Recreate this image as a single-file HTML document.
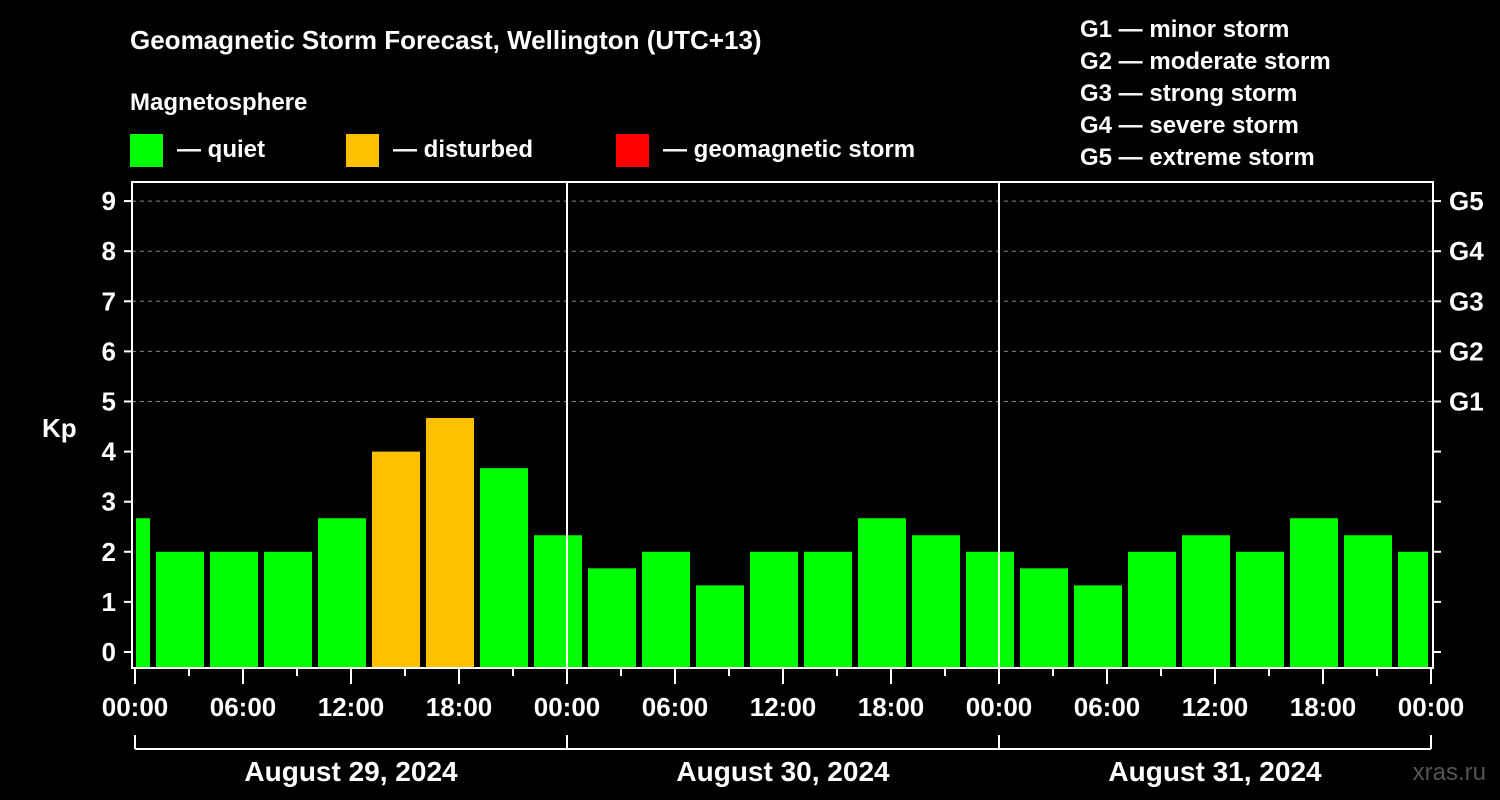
<!DOCTYPE html>
<html><head><meta charset="utf-8"><style>
body{margin:0;background:#000;}
svg{display:block;font-family:"Liberation Sans",sans-serif;font-weight:bold;}
</style></head><body>
<svg id="chart" width="1500" height="800" viewBox="0 0 1500 800">
<rect width="1500" height="800" fill="#000"/>
<text x="130" y="49" fill="#fff" font-size="26">Geomagnetic Storm Forecast, Wellington (UTC+13)</text>
<text x="130" y="110" fill="#fff" font-size="24">Magnetosphere</text>
<g><rect x="130" y="134" width="33" height="33" fill="#00ff00"/><text x="177" y="157" fill="#fff" font-size="24">— quiet</text></g>
<g><rect x="346" y="134" width="33" height="33" fill="#ffc000"/><text x="393" y="157" fill="#fff" font-size="24">— disturbed</text></g>
<g><rect x="616" y="134" width="33" height="33" fill="#ff0000"/><text x="663" y="157" fill="#fff" font-size="24">— geomagnetic storm</text></g>
<g fill="#fff" font-size="24">
<text x="1080" y="37">G1 — minor storm</text>
<text x="1080" y="69">G2 — moderate storm</text>
<text x="1080" y="101">G3 — strong storm</text>
<text x="1080" y="133">G4 — severe storm</text>
<text x="1080" y="165">G5 — extreme storm</text>
</g>
<text x="42" y="437" fill="#fff" font-size="26">Kp</text>
<text x="1486" y="780" fill="#555" font-size="24" text-anchor="end" font-weight="normal">xras.ru</text>
<g id="plot"></g>
</svg>
<script>
const kpValues=[2.67,2,2,2,2.67,4,4.67,3.67,2.33,1.67,2,1.33,2,2,2.67,2.33,2,1.67,1.33,2,2.33,2,2.67,2.33,2];
const yTickLabels=["0","1","2","3","4","5","6","7","8","9"];
const gLabels=["G1","G2","G3","G4","G5"];
const hourLabels=["00:00","06:00","12:00","18:00"];
const dayLabels=["August 29, 2024","August 30, 2024","August 31, 2024"];
const NS="http://www.w3.org/2000/svg";
const g=document.getElementById('plot');
const L=132,R=1433,T=182,B=668;
const x0=135,pxH=18;
const xs=h=>x0+h*pxH;
const ys=v=>652-v*50.1;
function mk(tag,a){const e=document.createElementNS(NS,tag);for(const k in a)e.setAttribute(k,a[k]);g.appendChild(e);return e;}
// grid
for(let v=5;v<=9;v++){const l=mk('line',{x1:L,x2:R,y1:ys(v),y2:ys(v),stroke:'#888','stroke-dasharray':'4,4','stroke-width':1});

}
// bars
kpValues.forEach((v,i)=>{
 const c=-0.5+3*i;
 let a=xs(c)-24,b=xs(c)+24;
 a=Math.max(a,136);b=Math.min(b,1428);
 const col=v>=5?'#ff0000':(v>=4?'#ffc000':'#00ff00');
 const r=mk('rect',{x:a,y:ys(v),width:b-a,height:B-ys(v),fill:col});
 
 
});
// day separators
[1,2].forEach(d=>{const l=mk('line',{x1:xs(24*d),x2:xs(24*d),y1:T,y2:B,stroke:'#fff','stroke-width':2});

});
// frame
const f=mk('rect',{x:L,y:T,width:R-L,height:B-T,fill:'none',stroke:'#fff','stroke-width':2});


// y ticks
yTickLabels.forEach((t,i)=>{
 const y=ys(+t);
 mk('line',{x1:L-8,x2:L,y1:y,y2:y,stroke:'#fff','stroke-width':2});
 mk('line',{x1:R,x2:R+8,y1:y,y2:y,stroke:'#fff','stroke-width':2});
 const tx=mk('text',{x:116,y:y+9,fill:'#fff','font-size':26,'text-anchor':'end'});tx.textContent=t;
 
 
});
gLabels.forEach((t,i)=>{const tx=mk('text',{x:1449,y:ys(5+i)+9,fill:'#fff','font-size':26});tx.textContent=t;
 
 });
// x ticks
for(let h=0;h<=72;h+=3){const major=h%6===0;
 mk('line',{x1:xs(h),x2:xs(h),y1:B,y2:B+(major?16:8),stroke:'#fff','stroke-width':2});
 if(major){const tx=mk('text',{x:xs(h),y:716,fill:'#fff','font-size':26,'text-anchor':'middle'});tx.textContent=hourLabels[(h/6)%4];
 
 }}
// day bracket
mk('line',{x1:xs(0),x2:xs(72),y1:749,y2:749,stroke:'#fff','stroke-width':2});
for(let d=0;d<=3;d++)mk('line',{x1:xs(24*d),x2:xs(24*d),y1:735,y2:749,stroke:'#fff','stroke-width':2});
dayLabels.forEach((t,d)=>{const tx=mk('text',{x:xs(24*d+12),y:781,fill:'#fff','font-size':28,'text-anchor':'middle'});tx.textContent=t;
 
 });
</script>
</body></html>
